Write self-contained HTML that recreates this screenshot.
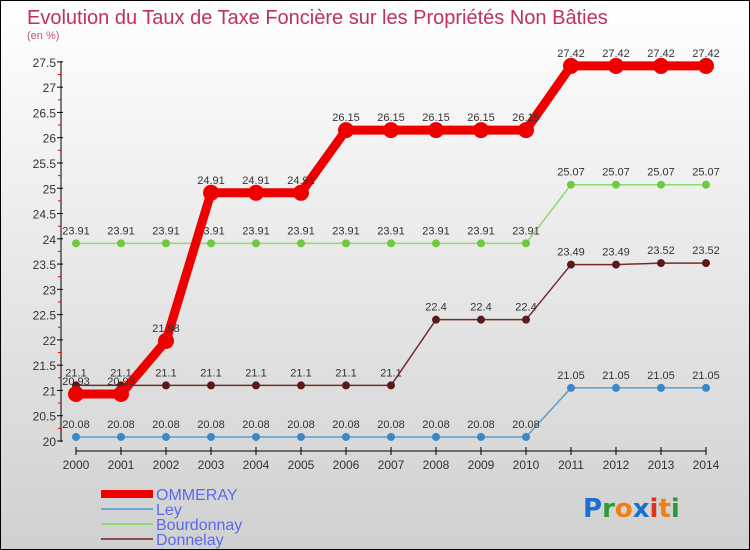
<!DOCTYPE html>
<html><head><meta charset="utf-8"><style>
body{margin:0}
#wrap{position:relative;width:748px;height:548px;border:1px solid #000;background:linear-gradient(#fff,#d0d0d0);font-family:"Liberation Sans",sans-serif;overflow:hidden}
</style></head><body>
<div id="wrap">
<svg id="svg" width="748" height="548" xmlns="http://www.w3.org/2000/svg">
<text x="26" y="23" font-size="20" fill="#c03060">Evolution du Taux de Taxe Foncière sur les Propriétés Non Bâties</text>
<text x="26" y="38" font-size="11" fill="#c05080">(en %)</text>
<g id="axes"></g><g id="series"></g><g id="legend"></g>
<g font-size="26" font-family="DejaVu Sans, sans-serif" font-weight="bold">
<text x="582" y="516"><tspan fill="#1a6fd0">P</tspan><tspan fill="#2a9a3a">r</tspan><tspan fill="#f08010">o</tspan><tspan fill="#1a6fd0">x</tspan><tspan fill="#e03020">i</tspan><tspan fill="#f08010">t</tspan><tspan fill="#2a9a3a">i</tspan></text></g>
</svg></div>
<script>
const years=[2000,2001,2002,2003,2004,2005,2006,2007,2008,2009,2010,2011,2012,2013,2014];
const ommeray=[20.93,20.93,21.98,24.91,24.91,24.91,26.15,26.15,26.15,26.15,26.15,27.42,27.42,27.42,27.42];
const ley=[20.08,20.08,20.08,20.08,20.08,20.08,20.08,20.08,20.08,20.08,20.08,21.05,21.05,21.05,21.05];
const bourdonnay=[23.91,23.91,23.91,23.91,23.91,23.91,23.91,23.91,23.91,23.91,23.91,25.07,25.07,25.07,25.07];
const donnelay=[21.1,21.1,21.1,21.1,21.1,21.1,21.1,21.1,22.4,22.4,22.4,23.49,23.49,23.52,23.52];
const yTicks=[20,20.5,21,21.5,22,22.5,23,23.5,24,24.5,25,25.5,26,26.5,27,27.5];
const NS="http://www.w3.org/2000/svg";
const X=i=>75+i*45, Y=v=>440-(v-20)*50.55;
function mk(t,a,p){const e=document.createElementNS(NS,t);for(const k in a)e.setAttribute(k,a[k]);p.appendChild(e);return e;}
const ax=document.getElementById('axes');
let l=mk('line',{x1:60,y1:60,x2:60,y2:441,stroke:'#000'},ax);

l=mk('line',{x1:75,y1:450,x2:705,y2:450,stroke:'#000'},ax);

yTicks.forEach(v=>{const y=Y(v);mk('line',{x1:56,y1:y,x2:62,y2:y,stroke:'#000'},ax);
if(v<27.5)mk('line',{x1:57,y1:Y(v+0.25),x2:60,y2:Y(v+0.25),stroke:'#e00'},ax);
const t=mk('text',{x:55,y:y+5,'text-anchor':'end','font-size':12,fill:'#333'},ax);t.textContent=v;
});
years.forEach((yr,i)=>{mk('line',{x1:X(i),y1:446,x2:X(i),y2:454,stroke:'#000'},ax);
const t=mk('text',{x:X(i),y:468,'text-anchor':'middle','font-size':12,fill:'#333'},ax);t.textContent=yr;
});
const sg=document.getElementById('series');
function draw(name,vals,col,w,r,dot){
const g=mk('g',{},sg);
const p=mk('polyline',{points:vals.map((v,i)=>X(i)+','+Y(v)).join(' '),fill:'none',stroke:col,'stroke-width':w,'stroke-linejoin':'round'},g);

vals.forEach((v,i)=>{const c=mk('circle',{cx:X(i),cy:Y(v),r:r,fill:dot},g);

const t=mk('text',{x:X(i),y:Y(v)-9,'text-anchor':'middle','font-size':11,fill:'#333'},g);t.textContent=v;
});}
draw('ley',ley,'#5a9fd0',1.5,4,'#3a88c8');
draw('bourdonnay',bourdonnay,'#90d870',1.5,4,'#70c840');
draw('donnelay',donnelay,'#7a2a2a',1.5,4,'#5a1a1a');
draw('ommeray',ommeray,'#ee0000',9,8,'#ee0000');
const lg=document.getElementById('legend');
const names=['OMMERAY','Ley','Bourdonnay','Donnelay'],cols=['#ee0000','#6aa8d8','#90d870','#8a4a4a'],ws=[8,2,2,2];
names.forEach((n,i)=>{const y=493+i*15;
const ln=mk('line',{x1:100,y1:y,x2:152,y2:y,stroke:cols[i],'stroke-width':ws[i]},lg);

const t=mk('text',{x:155,y:y+6,'font-size':16,fill:'#5a6aee'},lg);t.textContent=n;
});
</script></body></html>
